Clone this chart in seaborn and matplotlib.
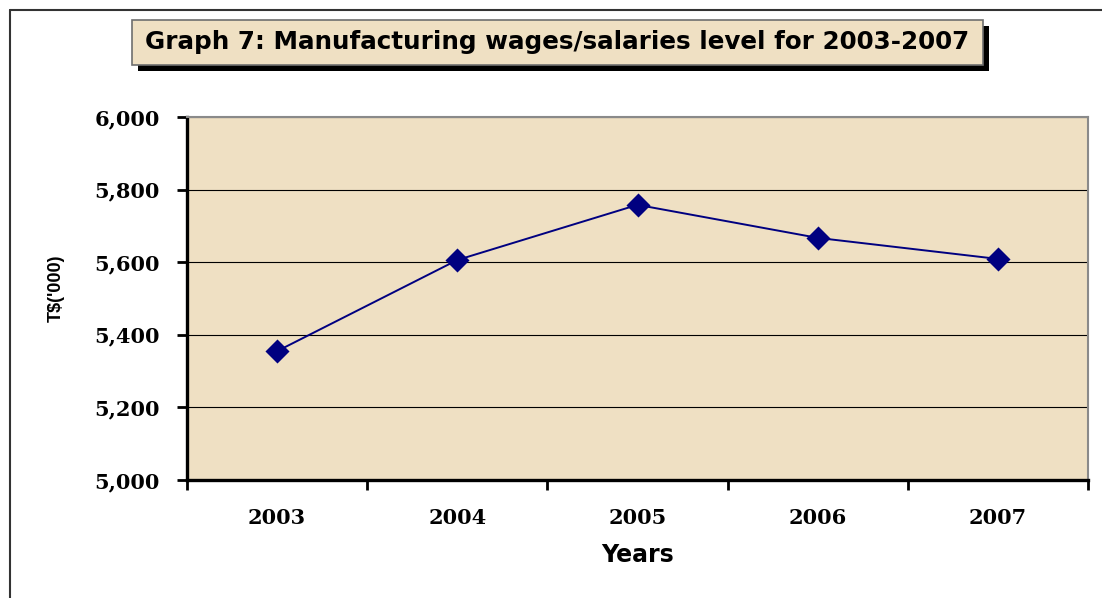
import matplotlib
matplotlib.use("Agg")
import matplotlib.pyplot as plt
import seaborn as sns
import pandas as pd
from matplotlib.patches import Rectangle
from matplotlib.lines import Line2D

# ---- data ----
years = ["2003", "2004", "2005", "2006", "2007"]
wages = [5355, 5606, 5758, 5667, 5609]
y_ticks = [5000, 5200, 5400, 5600, 5800, 6000]
y_tick_labels = ["5,000", "5,200", "5,400", "5,600", "5,800", "6,000"]
title = "Graph 7: Manufacturing wages/salaries level for 2003-2007"
x_label = "Years"
y_label = "T$('000)"

df = pd.DataFrame({"year": years, "wages": wages})

sns.set_style("white")
plt.rcParams["font.family"] = ["DejaVu Sans"]
plt.rcParams["text.color"] = "black"
plt.rcParams["axes.labelcolor"] = "black"
plt.rcParams["xtick.color"] = "black"
plt.rcParams["ytick.color"] = "black"

W, H = 1102, 598
fig = plt.figure(figsize=(W / 100, H / 100), dpi=100)
fig.patch.set_facecolor("white")

ax = fig.add_axes([187 / W, 1 - 480 / H, (1088 - 187) / W, (480 - 117) / H])
ax.set_facecolor("#EFE0C3")

sns.pointplot(data=df, x="year", y="wages", ax=ax, color="#000080",
              markers="D", markersize=11, linewidth=1.4, errorbar=None)

ax.set_xlim(-0.5, 4.5)
ax.set_ylim(5000, 6000)

# gridlines
ax.set_yticks(y_ticks)
ax.set_yticklabels(y_tick_labels)
ax.yaxis.grid(True, color="black", linewidth=0.8)
ax.xaxis.grid(False)
ax.set_axisbelow(True)

# x ticks: marks at category boundaries, labels at centres
ax.set_xticks([i - 0.5 for i in range(len(years) + 1)])
ax.set_xticklabels([""] * (len(years) + 1))
ax.set_xticks(range(len(years)), years, minor=True)
ax.tick_params(axis="x", which="major", bottom=True, direction="out", length=7.5, width=2,
               color="black")
ax.tick_params(axis="x", which="minor", bottom=True, length=0, pad=20, labelcolor="black")
ax.tick_params(axis="y", left=True, direction="out", length=7.5, width=2, color="black",
               pad=12, labelcolor="black")

for lab in ax.get_xticklabels(minor=True) + ax.get_yticklabels():
    lab.set_fontfamily("DejaVu Serif")
    lab.set_fontweight("bold")
    lab.set_fontsize(15)
    lab.set_color("black")

# spines
for s in ["left", "bottom"]:
    ax.spines[s].set_color("black")
    ax.spines[s].set_linewidth(2.4)
for s in ["top", "right"]:
    ax.spines[s].set_visible(True)
    ax.spines[s].set_color("#8a8a8a")
    ax.spines[s].set_linewidth(1.5)

ax.set_xlabel(x_label, fontsize=17, fontweight="bold", fontfamily="DejaVu Sans",
              labelpad=11, color="black")
ax.set_ylabel(y_label, fontsize=13, fontweight="bold", fontfamily="Liberation Sans",
              color="black")
ax.yaxis.set_label_coords((65 - 187) / (1088 - 187), (480 - 288) / (480 - 117))

# outer frame (left and top edges)
fig.add_artist(Line2D([10 / W, 10 / W], [0, 1 - 10 / H], transform=fig.transFigure,
                      color="#333333", linewidth=1.5))
fig.add_artist(Line2D([10 / W, 1], [1 - 10 / H, 1 - 10 / H], transform=fig.transFigure,
                      color="#333333", linewidth=1.5))

# title box with shadow
bx0, bx1, by0, by1 = 132, 983, 20, 65
sh = 6
fig.add_artist(Rectangle(((bx0 + sh) / W, 1 - (by1 + sh) / H), (bx1 - bx0) / W, (by1 - by0) / H,
                         transform=fig.transFigure, facecolor="black", edgecolor="none"))
fig.add_artist(Rectangle((bx0 / W, 1 - by1 / H), (bx1 - bx0) / W, (by1 - by0) / H,
                         transform=fig.transFigure, facecolor="#EFE0C3", edgecolor="#6e6e6e",
                         linewidth=1.2))
fig.text((bx0 + bx1) / 2 / W, 1 - (by0 + by1) / 2 / H, title, ha="center", va="center",
         fontsize=17.7, fontweight="bold", fontfamily="DejaVu Sans", color="black")

fig.savefig("out.png", dpi=100)
